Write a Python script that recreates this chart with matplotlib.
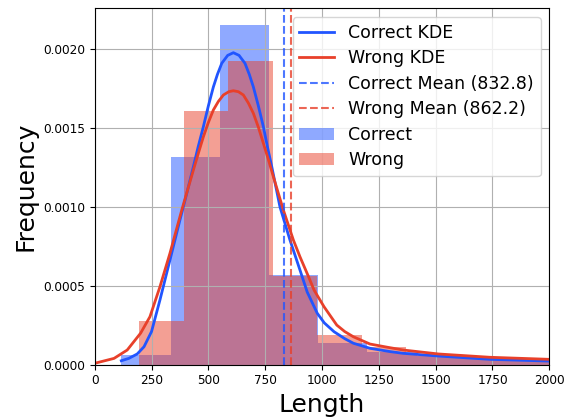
import numpy as np
import matplotlib
matplotlib.use("Agg")
import matplotlib.pyplot as plt

# histogram bins (density)
correct_edges = [117, 333.5, 550, 766.5, 983, 1199.5, 1416, 1632.5, 1849, 2065.5]
correct_heights = [0.0000615, 0.001318, 0.002152, 0.000568, 0.000139, 0.00008, 0.000055, 0.00004, 0.000028]
wrong_edges = [195, 391, 587, 783, 979, 1175, 1371, 1567, 1763, 1959, 2155]
wrong_heights = [0.000279, 0.001606, 0.001924, 0.000562, 0.000188, 0.00011, 0.00007, 0.000045, 0.00003, 0.000025]

# KDE curves sampled from the chart
correct_kde_x = [117, 150, 187, 217, 250, 287, 331, 375, 397, 434, 455, 478, 500, 522, 540, 559,
                 585, 610, 635, 661, 680, 698, 720, 742, 760, 779, 815, 859, 903, 935, 979,
                 1010, 1053, 1100, 1138, 1211, 1300, 1358, 1512, 1739, 2000]
correct_kde_y = [0.000025, 0.00004, 0.000068, 0.000114, 0.00021, 0.00041, 0.000663, 0.000917,
                 0.00104, 0.001254, 0.00138, 0.001508, 0.00164, 0.00176, 0.00184, 0.00191,
                 0.00196, 0.001977, 0.00196, 0.00191, 0.00184, 0.00176, 0.00164, 0.001508,
                 0.00138, 0.001254, 0.001, 0.00079, 0.0006, 0.00046, 0.000326,
                 0.000265, 0.000209, 0.000165, 0.000136, 0.000104, 0.000083, 0.000072,
                 0.000055, 0.000034, 0.000023]
wrong_kde_x = [0, 85, 143, 202, 243, 287, 331, 383, 434, 456, 478, 500, 522, 544, 566, 590,
               610, 632, 654, 676, 698, 720, 742, 764, 786, 830, 874, 903, 940, 965, 1009,
               1065, 1100, 1138, 1211, 1290, 1358, 1512, 1739, 2000]
wrong_kde_y = [0.000009, 0.00004, 0.000093, 0.0002, 0.000304, 0.000494, 0.000706, 0.00098,
               0.001233, 0.00134, 0.001444, 0.001535, 0.001614, 0.001668, 0.001709, 0.00173,
               0.001736, 0.00173, 0.001709, 0.001658, 0.001593, 0.001505, 0.001403, 0.0013,
               0.001191, 0.00098, 0.00079, 0.000684, 0.00056, 0.000473, 0.000367,
               0.000251, 0.00021, 0.000177, 0.000131, 0.00011, 0.000093, 0.000068,
               0.000047, 0.000034]

correct_mean = 832.8
wrong_mean = 862.2

blue = "#2155FF"
red = "#E8402A"

fig, ax = plt.subplots(figsize=(5.74, 4.18), dpi=100)
fig.subplots_adjust(left=0.165, right=0.957, top=0.980, bottom=0.1275)

h_correct = ax.hist(correct_edges[:-1], bins=correct_edges, weights=correct_heights,
                    color=blue, alpha=0.5)[2]
h_wrong = ax.hist(wrong_edges[:-1], bins=wrong_edges, weights=wrong_heights,
                  color=red, alpha=0.5)[2]

l1, = ax.plot(correct_kde_x, correct_kde_y, color=blue, lw=2)
l2, = ax.plot(wrong_kde_x, wrong_kde_y, color=red, lw=2)

l3 = ax.axvline(correct_mean, color=blue, ls="--", lw=1.5, alpha=0.8)
l4 = ax.axvline(wrong_mean, color=red, ls="--", lw=1.5, alpha=0.8)

ax.set_xlim(0, 2000)
ax.set_ylim(0, 0.002258)
ax.set_xticks([0, 250, 500, 750, 1000, 1250, 1500, 1750, 2000])
ax.set_yticks([0, 0.0005, 0.001, 0.0015, 0.002])
ax.set_yticklabels(["0.0000", "0.0005", "0.0010", "0.0015", "0.0020"])
ax.tick_params(labelsize=8.7)
ax.set_xlabel("Length", fontsize=18)
ax.set_ylabel("Frequency", fontsize=18)
ax.grid(True)

handles = [l1, l2, l3, l4, h_correct[0], h_wrong[0]]
labels = ["Correct KDE", "Wrong KDE",
          f"Correct Mean ({correct_mean:.1f})", f"Wrong Mean ({wrong_mean:.1f})",
          "Correct", "Wrong"]
ax.legend(handles, labels, fontsize=12.5, loc="upper right", labelspacing=0.43)

fig.savefig("out.png", dpi=100)
